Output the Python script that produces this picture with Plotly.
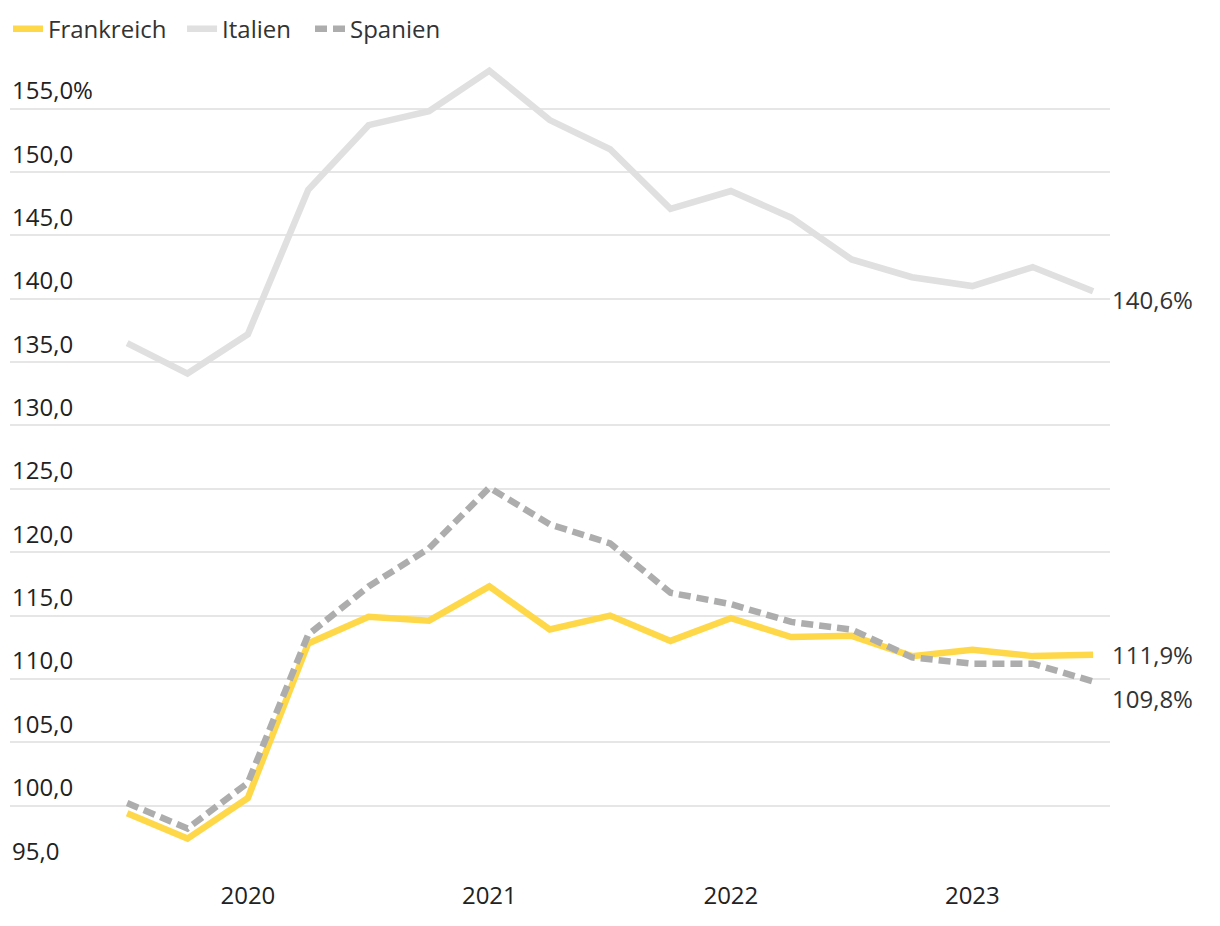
import plotly.graph_objects as go

quarters = ["Q3 2019", "Q4 2019", "Q1 2020", "Q2 2020", "Q3 2020", "Q4 2020",
            "Q1 2021", "Q2 2021", "Q3 2021", "Q4 2021", "Q1 2022", "Q2 2022",
            "Q3 2022", "Q4 2022", "Q1 2023", "Q2 2023", "Q3 2023"]
frankreich = [99.4, 97.4, 100.6, 112.8, 114.9, 114.6, 117.3, 113.9, 115.0, 113.0,
              114.8, 113.3, 113.4, 111.8, 112.3, 111.8, 111.9]
italien = [136.5, 134.1, 137.2, 148.6, 153.7, 154.8, 158.0, 154.1, 151.8, 147.1,
           148.5, 146.4, 143.1, 141.7, 141.0, 142.5, 140.6]
spanien = [100.2, 98.2, 101.8, 113.5, 117.3, 120.3, 125.1, 122.2, 120.7, 116.8,
           115.9, 114.5, 113.9, 111.7, 111.2, 111.2, 109.8]
year_ticks = ["2020", "2021", "2022", "2023"]
year_tick_pos = [2, 6, 10, 14]
y_ticks = [95, 100, 105, 110, 115, 120, 125, 130, 135, 140, 145, 150, 155]

FONT = "Open Sans"
FS = 24
xs = list(range(len(quarters)))

fig = go.Figure()
fig.add_trace(go.Scatter(x=xs, y=frankreich, name="Frankreich", mode="lines",
                         line=dict(color="#FFD84A", width=6.5), legend="legend"))
fig.add_trace(go.Scatter(x=xs, y=italien, name="Italien", mode="lines",
                         line=dict(color="#E0E0E0", width=6.5), legend="legend2"))
fig.add_trace(go.Scatter(x=xs, y=spanien, name="Spanien", mode="lines",
                         line=dict(color="#ADADAD", width=6.5, dash="12px,6px"),
                         legend="legend3"))

annotations = []
for v in y_ticks:
    txt = f"{v},0%" if v == y_ticks[-1] else f"{v},0"
    annotations.append(dict(x=0, xref="paper", xanchor="left", y=v, yref="y",
                            yanchor="middle", yshift=19, text=txt, showarrow=False,
                            font=dict(family=FONT, size=FS, color="#222222")))

def fmt(v):
    return f"{v:.1f}".replace(".", ",") + "%"

end_shifts = {"Frankreich": 0, "Italien": -8, "Spanien": -17}
for name, series in [("Italien", italien), ("Frankreich", frankreich), ("Spanien", spanien)]:
    annotations.append(dict(x=xs[-1], y=series[-1], xref="x", yref="y",
                            xanchor="left", yanchor="middle", xshift=17,
                            yshift=end_shifts[name], text=fmt(series[-1]),
                            showarrow=False,
                            font=dict(family=FONT, size=FS, color="#333333")))

leg_common = dict(orientation="h", xanchor="left", xref="container",
                  yref="container", y=0.977, yanchor="middle",
                  font=dict(family=FONT, size=FS, color="#333333"),
                  itemwidth=30, bgcolor="rgba(0,0,0,0)")

fig.update_layout(
    width=1212, height=918,
    margin=dict(l=2, r=110, t=50, b=57, autoexpand=False),
    plot_bgcolor="white", paper_bgcolor="white",
    font=dict(family=FONT, size=FS, color="#222222"),
    showlegend=True,
    legend=dict(x=-0.0066, **leg_common),
    legend2=dict(x=0.1436, **leg_common),
    legend3=dict(x=0.2492, **leg_common),
    annotations=annotations,
    xaxis=dict(range=[-1.94, 16.28], tickvals=year_tick_pos, ticktext=year_ticks,
               showgrid=False, zeroline=False, showline=False, ticks="",
               ticklabelstandoff=10,
               tickfont=dict(family=FONT, size=FS, color="#222222")),
    yaxis=dict(range=[95, 159], tickvals=y_ticks, showticklabels=False,
               showgrid=True, gridcolor="#E6E6E6", gridwidth=2,
               zeroline=False, showline=False, ticks=""),
)

fig.write_html("out.html")
